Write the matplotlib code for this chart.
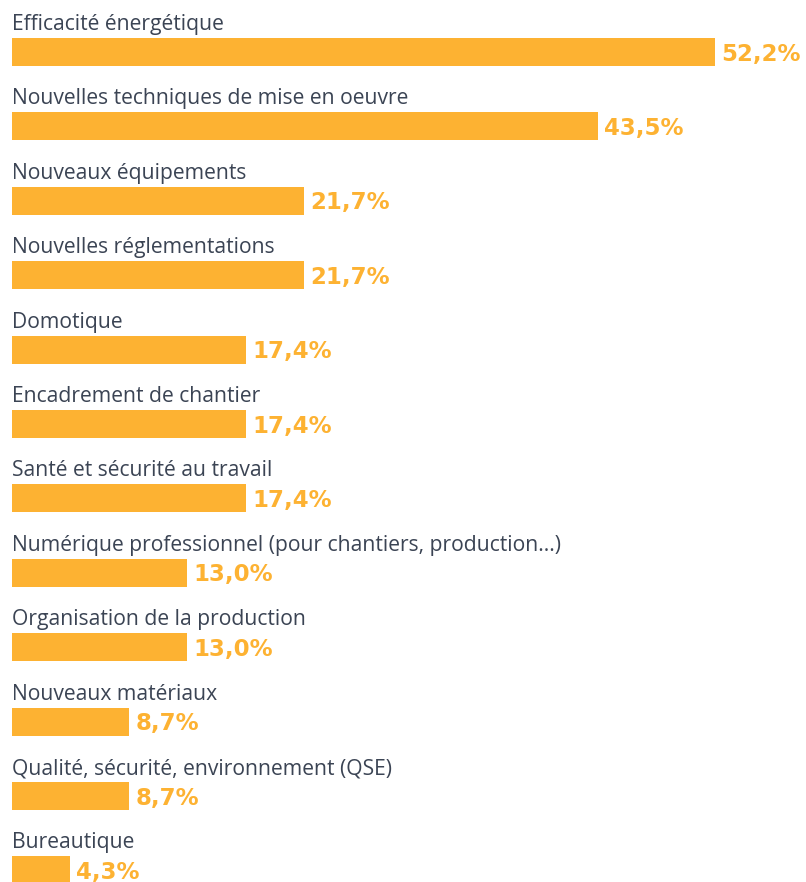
import matplotlib.pyplot as plt

categories = [
    "Efficacité énergétique",
    "Nouvelles techniques de mise en oeuvre",
    "Nouveaux équipements",
    "Nouvelles réglementations",
    "Domotique",
    "Encadrement de chantier",
    "Santé et sécurité au travail",
    "Numérique professionnel (pour chantiers, production...)",
    "Organisation de la production",
    "Nouveaux matériaux",
    "Qualité, sécurité, environnement (QSE)",
    "Bureautique",
]
values = [52.2, 43.5, 21.7, 21.7, 17.4, 17.4, 17.4, 13.0, 13.0, 8.7, 8.7, 4.3]
value_labels = ["52,2%", "43,5%", "21,7%", "21,7%", "17,4%", "17,4%", "17,4%",
                "13,0%", "13,0%", "8,7%", "8,7%", "4,3%"]

bar_color = "#FDB232"
text_color = "#3B4454"

fig = plt.figure(figsize=(8.06, 8.82), dpi=100)
ax = fig.add_axes([0, 0, 1, 1])

px_per_pct = 703 / 52.2
row_px = 74.4
ax.set_xlim(-12 / px_per_pct, (806 - 12) / px_per_pct)
ax.set_ylim((882 - 52) / row_px, -52 / row_px)

pos = list(range(len(values)))
ax.barh(pos, values, height=28 / row_px, color=bar_color)

for i, (cat, v, lab) in enumerate(zip(categories, values, value_labels)):
    ax.text(0, i - 22 / row_px, cat, fontsize=15.2, family="Open Sans",
            color=text_color, va="baseline", ha="left")
    ax.text(v + 6 / px_per_pct, i + 2 / row_px, lab, fontsize=16.5, family="DejaVu Sans",
            fontweight="bold", color=bar_color, va="center", ha="left")

ax.axis("off")
fig.savefig("out.png", dpi=100)
